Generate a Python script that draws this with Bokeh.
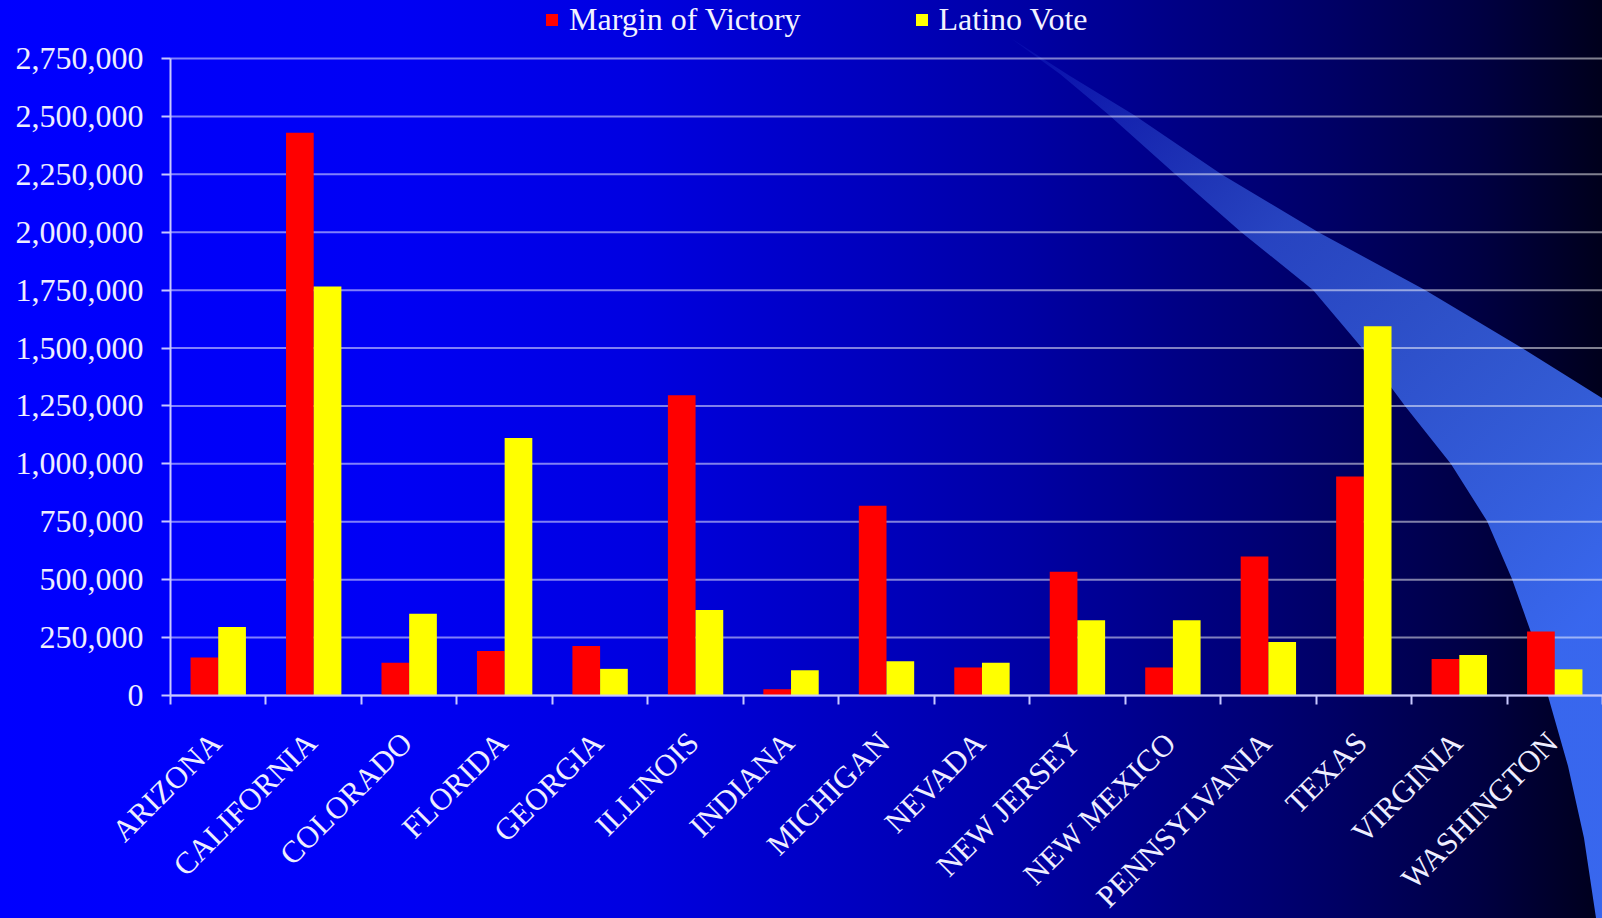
from math import pi
from bokeh.plotting import figure
from bokeh.models import (ColumnDataSource, Range1d, FixedTicker, NumeralTickFormatter,
                          Legend, LegendItem)
from bokeh.embed import file_html
from bokeh.resources import INLINE

# ---- data ----
states = ["ARIZONA", "CALIFORNIA", "COLORADO", "FLORIDA", "GEORGIA", "ILLINOIS",
          "INDIANA", "MICHIGAN", "NEVADA", "NEW JERSEY", "NEW MEXICO",
          "PENNSYLVANIA", "TEXAS", "VIRGINIA", "WASHINGTON"]
margin_of_victory = [164000, 2429000, 141000, 192000, 214000, 1296000, 27000, 819000,
                     121000, 534000, 121000, 600000, 945000, 158000, 276000]
latino_vote = [296000, 1766000, 353000, 1112000, 115000, 369000, 109000, 148000,
               141000, 325000, 325000, 231000, 1594000, 175000, 113000]
y_ticks = list(range(0, 2750001, 250000))

W, H = 1602, 918
N = len(states)
Y_MAX = 2750000
# the frame covers the whole canvas; value 0 sits at px 695, 2,750,000 at px 58,
# first category boundary at px 170
PX_PER_UNIT = (695 - 58) / Y_MAX
Y_TOP = Y_MAX + 58 / PX_PER_UNIT
Y_BOTTOM = -(H - 695) / PX_PER_UNIT
PX_PER_CAT = (W - 170) / N
X_LEFT = -170 / PX_PER_CAT

BW = 0.29
LABEL_SHIFT = 0.025
centers = [i + 0.5 for i in range(N)]
label_pos = [c - LABEL_SHIFT for c in centers]
bounds = list(range(N + 1))

src = ColumnDataSource(dict(
    x_red=[c - BW / 2 for c in centers],
    x_yel=[c + BW / 2 for c in centers],
    mov=margin_of_victory,
    lat=latino_vote,
))
grid_src = ColumnDataSource(dict(y=y_ticks, x0=[0] * len(y_ticks), x1=[N] * len(y_ticks)))

p = figure(width=W, height=H, output_backend="svg", toolbar_location=None,
           x_range=Range1d(X_LEFT, N), y_range=Range1d(Y_BOTTOM, Y_TOP),
           min_border_left=0, min_border_right=0, min_border_top=0,
           min_border_bottom=0)

p.background_fill_alpha = 0
p.border_fill_alpha = 0
p.outline_line_color = None

# decorative swoosh of the slide background (page pixels)
upper = ("1012,39 1070,76 1134,115 1221,174 1318,232 1425,290 1522,348 1602,398")
lower = ("1602,918 1596,918 1584,838 1568,766 1548,696 1533,638 1512,579 1487,521 "
         "1451,464 1405,406 1362,348 1313,290 1241,232 1175,174 1109,115 1060,74 1012,39")
svg = ("<svg xmlns='http://www.w3.org/2000/svg' width='%d' height='%d'>"
       "<defs><linearGradient id='g' gradientUnits='userSpaceOnUse' x1='1012' y1='39' x2='1602' y2='600'>"
       "<stop offset='0' stop-color='%%234a7cff' stop-opacity='0.08'/>"
       "<stop offset='0.4' stop-color='%%233f6df2' stop-opacity='0.62'/>"
       "<stop offset='1' stop-color='%%233a6af4' stop-opacity='0.97'/>"
       "</linearGradient></defs>"
       "<polygon points='%s %s' fill='url(%%23g)'/></svg>") % (W, H, upper, lower)

p.styles = {
    "background": ("url(\"data:image/svg+xml;utf8," + svg + "\") no-repeat 0 0, "
                   "linear-gradient(to right, #0000ff 0%, #0000f4 25%, #0000e0 40%, "
                   "#0000bc 55%, #0000a4 64%, #000080 75%, #000066 83%, #000044 92%, "
                   "#00001c 100%)"),
}

light = "#c8c8ff"
font = "Liberation Serif"
txt = "#eeeeff"

# horizontal grid lines, only over the plotting area
p.xgrid.grid_line_color = None
p.ygrid.grid_line_color = None
p.segment(x0="x0", x1="x1", y0="y", y1="y", source=grid_src, level="underlay",
          line_color="#ffffff", line_alpha=0.5, line_width=2)

r_red = p.vbar(x="x_red", top="mov", width=BW, bottom=0, source=src,
               fill_color="#ff0000", line_color=None)
r_yel = p.vbar(x="x_yel", top="lat", width=BW, bottom=0, source=src,
               fill_color="#ffff00", line_color=None)

# y axis at the first category boundary
p.yaxis.fixed_location = 0
p.yaxis.ticker = FixedTicker(ticks=y_ticks)
p.yaxis.bounds = (0, Y_MAX)
p.yaxis.formatter = NumeralTickFormatter(format="0,0")
p.yaxis.axis_line_color = light
p.yaxis.axis_line_width = 2
p.yaxis.major_tick_line_color = light
p.yaxis.major_tick_line_width = 2
p.yaxis.major_tick_out = 9
p.yaxis.major_tick_in = 0
p.yaxis.minor_tick_line_color = None
p.yaxis.major_label_standoff = 18
p.yaxis.major_label_text_font = font
p.yaxis.major_label_text_font_size = "32px"
p.yaxis.major_label_text_color = txt

# x axis at value 0: tick marks at category boundaries (minor), state names as labels
p.xaxis.fixed_location = 0
p.xaxis.bounds = (0, N)
p.xaxis.ticker = FixedTicker(ticks=label_pos, minor_ticks=bounds)
p.xaxis.major_label_overrides = {lp: s for lp, s in zip(label_pos, states)}
p.xaxis.major_label_orientation = pi / 4
p.xaxis.axis_line_color = light
p.xaxis.axis_line_width = 2
p.xaxis.major_tick_line_color = None
p.xaxis.major_tick_out = 0
p.xaxis.major_tick_in = 0
p.xaxis.minor_tick_line_color = light
p.xaxis.minor_tick_line_width = 2
p.xaxis.minor_tick_out = 9
p.xaxis.minor_tick_in = 0
p.xaxis.major_label_standoff = 33
p.xaxis.major_label_text_font = font
p.xaxis.major_label_text_font_size = "31px"
p.xaxis.major_label_text_color = txt

legend = Legend(items=[LegendItem(label="Margin of Victory", renderers=[r_red]),
                       LegendItem(label="Latino Vote", renderers=[r_yel])],
                orientation="horizontal", location=(544, 880),
                background_fill_alpha=0, border_line_color=None,
                label_text_font=font, label_text_font_size="32px",
                label_text_color="#f2f2ff", glyph_width=15, glyph_height=15,
                label_standoff=10, spacing=113, padding=0, margin=0)
p.add_layout(legend, "center")

open("out.html", "w").write(file_html(p, INLINE))
